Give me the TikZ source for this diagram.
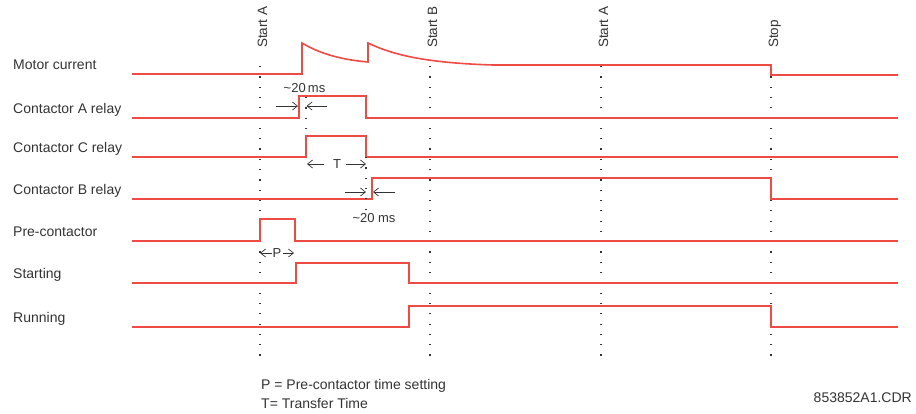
\documentclass[tikz,border=0pt]{standalone}
\usepackage{fontspec}
\setmainfont{Liberation Sans}
\usetikzlibrary{arrows.meta,positioning}
\definecolor{sigred}{HTML}{EE4B45}
\definecolor{ink}{HTML}{333333}
\tikzset{sig/.style={color=sigred, line width=1.6pt}, guide/.style={ink, line width=1.2pt, dash pattern=on 1.2pt off 9.1pt}, dim/.style={-{Straight Barb[length=5pt,width=8pt]}, line width=.7pt, color=ink}, lab/.style={font=\fontsize{14}{16}\selectfont, text=ink, inner sep=0pt, anchor=base west}, evt/.style={lab, font=\fontsize{13.5}{16}\selectfont, rotate=90}, sml/.style={font=\fontsize{13}{15}\selectfont, text=ink, inner sep=0pt, anchor=base}}

\begin{document}
\begin{tikzpicture}[x=1pt,y=-1pt]
\useasboundingbox (0,0) rectangle (916,413);
\foreach \nm/\txt/\y in {mc/Motor current/74, ca/Contactor A relay/118, cc/Contactor C relay/157, cb/Contactor B relay/199, pc/Pre-contactor/241, st/Starting/283, ru/Running/327}
  \node[lab] (\nm) at (13,\y-5) {\txt};
\foreach \nm/\txt/\x in {ea/Start A/260, eb/Start B/430, ec/Start A/601, es/Stop/771}{
  \node[evt] (\nm) at (\x+7,48) {\txt};
  \coordinate (\nm top) at (\x,66); \coordinate (\nm bot) at (\x,356);
  \draw[guide] (\nm top) -- (\nm bot);}
\draw[sig] (132,74) -- (302,74) -- (302,43) .. controls (322,55) and (345,60) .. (368,62) -- (368,43) .. controls (395,56) and (430,63) .. (493,65) -- (771,65) -- (771,75) -- (898,75);
\draw[sig] (132,118) -| (299,96) -| (366,118) -- (898,118);
\draw[sig] (132,157) -| (306,136) -| (366,157) -- (898,157);
\draw[sig] (132,199) -| (372,178) -| (771,199) -- (898,199);
\draw[sig] (132,241) -| (260,219) -| (295,241) -- (898,241);
\draw[sig] (132,283) -| (296,263) -| (409,283) -- (898,283);
\draw[sig] (132,327) -| (409,306) -| (771,327) -- (898,327);
\coordinate (ga top) at (306,97); \coordinate (ga bot) at (306,137);
\coordinate (gc top) at (366,157); \coordinate (gc bot) at (366,212);
\draw[guide] (ga top) -- (ga bot); \draw[guide] (gc top) -- (gc bot);
\node[sml] (dA) at (304.5,92) {\textasciitilde20\,ms};
\coordinate (dA1) at (276,106); \coordinate (dA2) at (298,106);
\coordinate (dA3) at (327,106); \coordinate (dA4) at (306.5,106);
\draw[dim] (dA1) -- (dA2); \draw[dim] (dA3) -- (dA4);
\node[sml] (tT) at (337,168) {T};
\coordinate (tT1) at (324,164); \coordinate (tT2) at (307,164);
\coordinate (tT3) at (346,164); \coordinate (tT4) at (366,164);
\draw[dim] (tT1) -- (tT2); \draw[dim] (tT3) -- (tT4);
\node[sml] (dB) at (374,222) {\textasciitilde20 ms};
\coordinate (dB1) at (345,192); \coordinate (dB2) at (366,192);
\coordinate (dB3) at (395,192); \coordinate (dB4) at (373,192);
\draw[dim] (dB1) -- (dB2); \draw[dim] (dB3) -- (dB4);
\node[sml] (pP) at (277,257) {P};
\coordinate (pP1) at (272,253); \coordinate (pP2) at (260,253);
\coordinate (pP3) at (283,253); \coordinate (pP4) at (294,253);
\draw[dim] (pP1) -- (pP2); \draw[dim] (pP3) -- (pP4);
\node[lab] (np) at (261,389) {P = Pre-contactor time setting};
\node[lab] (nt) at (261,408) {T= Transfer Time};
\node[lab, anchor=base east] (ref) at (912,402) {853852A1.CDR};
\end{tikzpicture}
\end{document}
